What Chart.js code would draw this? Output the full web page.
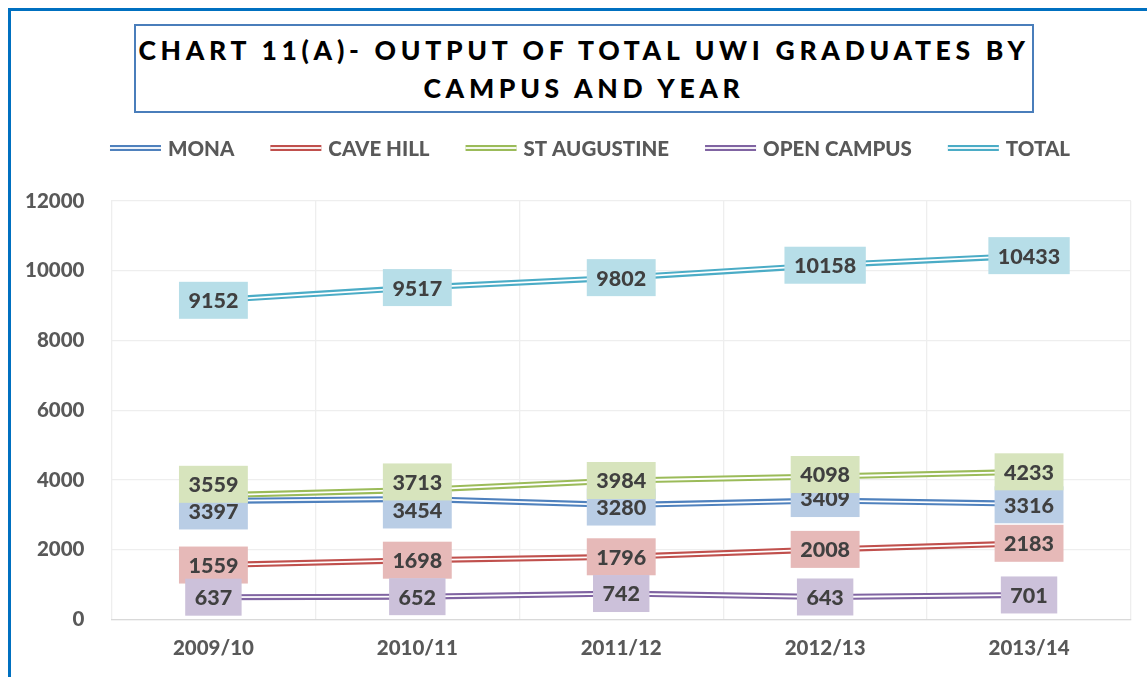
<!DOCTYPE html>
<html>
<head>
<meta charset="utf-8">
<script src="https://cdn.jsdelivr.net/npm/chart.js@4.4.1/dist/chart.umd.min.js"></script>
<style>
  html, body { margin: 0; padding: 0; background: #fff; overflow: hidden; }
  #wrap { position: relative; width: 1147px; height: 677px; }
  #frame { position: absolute; left: 8px; top: 8px; width: 1200px; height: 800px; border: 3px solid #0070c0; }
  #title {
    position: absolute; left: 134px; top: 24px; width: 896px; height: 80px;
    border: 2px solid #4a7ebb; background: #fff;
    font-family: Lato, "Open Sans", sans-serif; font-weight: 900; font-size: 26.5px;
    letter-spacing: 4.7px; text-align: center; line-height: 38px; color: #000;
    padding-top: 5px; box-sizing: content-box;
  }
  canvas { position: absolute; left: 0; top: 0; }
</style>
</head>
<body>
<div id="wrap">
  <div id="frame"></div>
  <canvas id="chart" width="1147" height="677"></canvas>
  <div id="title">CHART 11(A)- OUTPUT OF TOTAL UWI GRADUATES BY<br>CAMPUS AND YEAR</div>
</div>
<script>
const years = ["2009/10", "2010/11", "2011/12", "2012/13", "2013/14"];
const mona = [3397, 3454, 3280, 3409, 3316];
const caveHill = [1559, 1698, 1796, 2008, 2183];
const stAugustine = [3559, 3713, 3984, 4098, 4233];
const openCampus = [637, 652, 742, 643, 701];
const total = [9152, 9517, 9802, 10158, 10433];

const yTicks = [0, 2000, 4000, 6000, 8000, 10000, 12000];

const FONT = "Lato, 'Open Sans', sans-serif";

// label nudges (px) so boxes sit like in the original
const labelShift = {
  "MONA": [10, 11, 2, -2, 1],
  "ST AUGUSTINE": [-11, -8, 0, -2, 0]
};

function series(label, data, color, tint) {
  return {
    label: label,
    data: data,
    borderColor: color,
    backgroundColor: color,
    labelBg: tint,
    borderWidth: 6,
    pointRadius: 0,
    tension: 0
  };
}

const doubleLines = {
  id: "doubleLines",
  afterDatasetsDraw(chart) {
    const ctx = chart.ctx;
    ctx.save();
    ctx.strokeStyle = "#ffffff";
    ctx.lineWidth = 1.8;
    chart.data.datasets.forEach((ds, i) => {
      const pts = chart.getDatasetMeta(i).data;
      ctx.beginPath();
      pts.forEach((p, j) => (j ? ctx.lineTo(p.x, p.y) : ctx.moveTo(p.x, p.y)));
      ctx.stroke();
    });
    // value labels
    ctx.font = "900 21.5px " + FONT;
    ctx.textAlign = "center";
    ctx.textBaseline = "middle";
    chart.data.datasets.forEach((ds, i) => {
      const pts = chart.getDatasetMeta(i).data;
      const shift = labelShift[ds.label] || [];
      pts.forEach((p, j) => {
        const txt = String(ds.data[j]);
        const w = ctx.measureText(txt).width + 19;
        const h = 37;
        const cy = p.y + (shift[j] || 0);
        ctx.fillStyle = ds.labelBg;
        ctx.fillRect(p.x - w / 2, cy - h / 2, w, h);
        ctx.fillStyle = "#404040";
        ctx.fillText(txt, p.x, cy + 1);
      });
    });
    ctx.restore();
  }
};

const legendDraw = {
  id: "legendDraw",
  afterDraw(chart) {
    const ctx = chart.ctx;
    ctx.save();
    ctx.font = "900 20.5px " + FONT;
    ctx.textBaseline = "middle";
    ctx.textAlign = "left";
    const lineW = 51, gapText = 7, gapItem = 36, y = 148;
    const items = chart.data.datasets.map(ds => ({ ds, w: ctx.measureText(ds.label).width }));
    const totalW = items.reduce((s, it) => s + lineW + gapText + it.w, 0) + gapItem * (items.length - 1);
    let x = 590 - totalW / 2;
    items.forEach(it => {
      ctx.fillStyle = it.ds.borderColor;
      ctx.fillRect(x, y - 3, lineW, 6);
      ctx.fillStyle = "#ffffff";
      ctx.fillRect(x, y - 0.9, lineW, 1.8);
      ctx.fillStyle = "#595959";
      ctx.fillText(it.ds.label, x + lineW + gapText, y + 1);
      x += lineW + gapText + it.w + gapItem;
    });
    ctx.restore();
  }
};

new Chart(document.getElementById("chart"), {
  type: "line",
  data: {
    labels: years,
    datasets: [
      series("MONA", mona, "#4f81bd", "#b9cde5"),
      series("CAVE HILL", caveHill, "#c0504d", "#e6b9b8"),
      series("ST AUGUSTINE", stAugustine, "#9bbb59", "#d7e4bd"),
      series("OPEN CAMPUS", openCampus, "#8064a2", "#ccc1da"),
      series("TOTAL", total, "#4bacc6", "#b7dee8")
    ]
  },
  options: {
    responsive: false,
    animation: false,
    layout: { padding: { top: 201, left: -2, right: 16, bottom: -1 } },
    plugins: {
      legend: { display: false },
      title: { display: false },
      tooltip: { enabled: false }
    },
    scales: {
      x: {
        offset: true,
        grid: { offset: true, color: "#eeeeee", lineWidth: 1.3, drawTicks: false },
        border: { color: "#d9d9d9", width: 1.3 },
        ticks: { color: "#595959", font: { family: FONT, size: 20.5, weight: "900" }, padding: 17 }
      },
      y: {
        min: 0,
        max: 12000,
        afterBuildTicks(axis) { axis.ticks = yTicks.map(v => ({ value: v })); },
        grid: { color: "#eeeeee", lineWidth: 1.3, drawTicks: false },
        border: { display: false },
        ticks: {
          color: "#595959",
          font: { family: FONT, size: 20.5, weight: "900" },
          padding: 27,
          callback: v => String(v)
        }
      }
    }
  },
  plugins: [doubleLines, legendDraw]
});
</script>
</body>
</html>
